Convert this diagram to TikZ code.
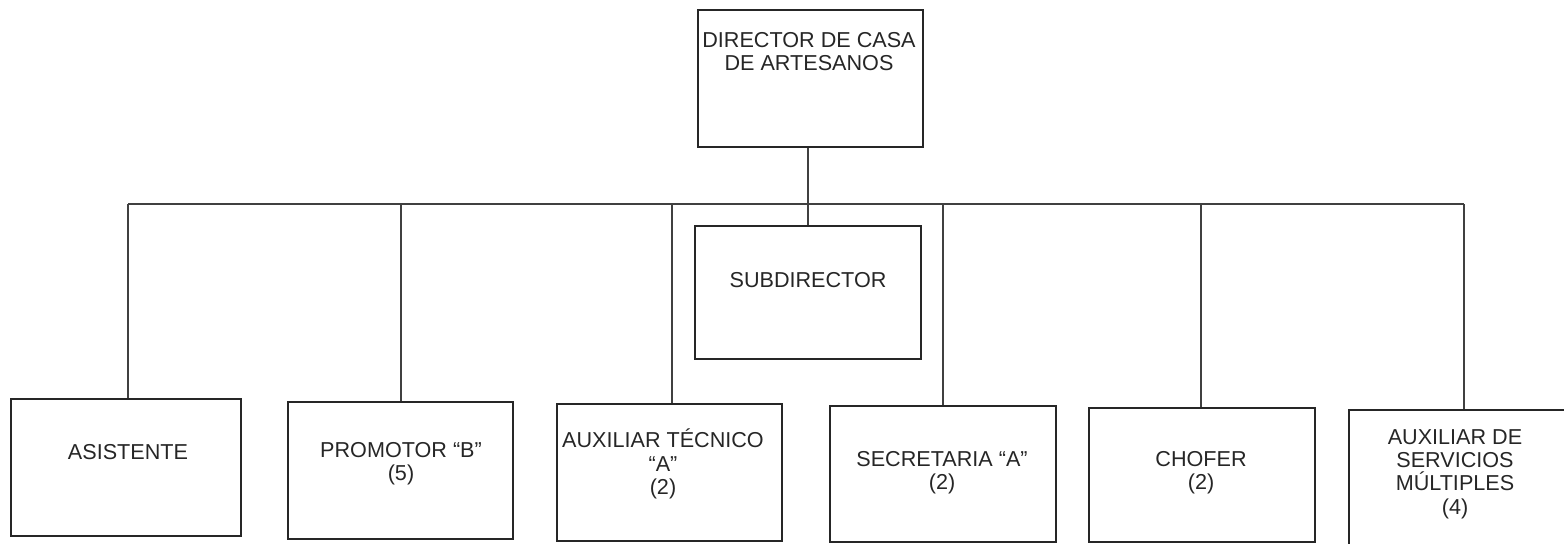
\documentclass[tikz,border=0pt]{standalone}
\usepackage{fontspec}
\setmainfont{Liberation Sans}
\begin{document}
\begin{tikzpicture}[x=0.5pt,y=-0.5pt,
  box/.style={draw=black!85, line width=0.8pt, minimum width=112.5pt, minimum height=68pt, inner sep=0pt, anchor=north west},
  txt/.style={align=center, font=\fontsize{10.8}{11.6}\selectfont, text=black!85, inner sep=0pt},
  conn/.style={draw=black!75, line width=0.55pt}]
\useasboundingbox (0,0) rectangle (1564,543);
% boxes
\node[box, minimum height=68.5pt] (dir) at (697,9) {};
\node[box, minimum width=113pt, minimum height=66.5pt] (sub) at (694,225) {};
\node[box, minimum width=115pt, minimum height=68.5pt] (asis) at (10,398) {};
\node[box, minimum height=68.5pt] (prom) at (287,401) {};
\node[box, minimum height=68.5pt] (aux) at (556,403) {};
\node[box, minimum width=113pt] (sec) at (829,405) {};
\node[box, minimum width=113pt, minimum height=67pt] (chof) at (1088,407) {};
\node[box, minimum width=116pt, minimum height=70pt] (serv) at (1348,409) {};
% texts
\node[txt] (tdir) at (809,51.5) {DIRECTOR DE CASA\\DE ARTESANOS};
\node[txt] (tsub) at (808,280) {SUBDIRECTOR};
\node[txt] (tasis) at (128,452) {ASISTENTE};
\node[txt] (tprom) at (401,463.5) {PROMOTOR “B”\\(5)};
\node[txt] (taux) at (663,464) {AUXILIAR TÉCNICO\\“A”\\(2)};
\node[txt] (tsec) at (942,472.5) {SECRETARIA “A”\\(2)};
\node[txt] (tchof) at (1201,473) {CHOFER\\(2)};
\node[txt] (tserv) at (1455,474) {AUXILIAR DE\\SERVICIOS\\MÚLTIPLES\\(4)};
% bus coordinates
\coordinate (dA) at (128,204);
\coordinate (dB) at (401,204);
\coordinate (dC) at (672,204);
\coordinate (dD) at (943,204);
\coordinate (dE) at (1201,204);
\coordinate (dF) at (1464,204);
\coordinate (dM) at (808,204);
% connectors
\draw[conn] (dA) -- (dF);
\draw[conn] (dir.south -| dM) -- (sub.north -| dM);
\draw[conn] (dA) -- (dA |- asis.north);
\draw[conn] (dB) -- (dB |- prom.north);
\draw[conn] (dC) -- (dC |- aux.north);
\draw[conn] (dD) -- (dD |- sec.north);
\draw[conn] (dE) -- (dE |- chof.north);
\draw[conn] (dF) -- (dF |- serv.north);
\end{tikzpicture}
\end{document}
